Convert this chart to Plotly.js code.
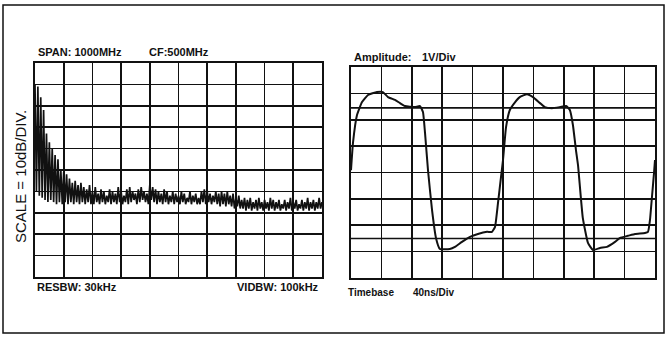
<!DOCTYPE html>
<html>
<head>
<meta charset="utf-8">
<script src="https://cdn.plot.ly/plotly-3.0.1.min.js"></script>
<style>html,body{margin:0;padding:0;background:#fff;}#chart{width:668px;height:341px;}</style>
</head>
<body>
<div id="chart"></div>
<script>
// Spectrum analyzer trace: level (dB) every 5 MHz from 0 to 1000 MHz
const spectrumStartMHz = 0;
const spectrumStepMHz = 5;
const spectrumLevelDb = [
  -10,-60,-11,-62,-16,-63,-22,-64,-33,-65,-37,-64,-40,-65,-43,-66,-45,-65,-50,-66,
  -51,-65,-52,-66,-54,-65,-56,-66,-55,-65,-57,-66,-56,-65,-58,-66,-59,-65,-57,-66,
  -60,-66,-58,-65,-61,-66,-59,-65,-60,-66,-62,-65,-59,-66,-60,-65,-61,-66,-58,-65,
  -60,-66,-62,-65,-59,-66,-58,-65,-60,-64,-61,-66,-59,-65,-58,-64,-60,-65,-61,-66,
  -57,-64,-58,-65,-59,-66,-60,-65,-61,-66,-59,-65,-60,-66,-62,-65,-60,-66,-61,-65,
  -62,-66,-60,-65,-61,-66,-63,-65,-60,-66,-62,-65,-61,-66,-63,-66,-60,-65,-59,-66,
  -60,-65,-61,-66,-62,-65,-60,-66,-61,-67,-60,-66,-61,-67,-60,-66,-62,-67,-61,-68,
  -63,-67,-62,-68,-64,-68,-63,-69,-64,-68,-63,-69,-65,-68,-64,-69,-63,-68,-65,-69,
  -64,-68,-65,-69,-63,-68,-64,-69,-65,-68,-64,-69,-66,-68,-64,-69,-65,-68,-63,-69,
  -65,-68,-64,-69,-66,-68,-64,-69,-65,-68,-63,-69,-65,-68,-64,-69,-65,-68,-63,-68,
  -65
];

// Oscilloscope trace: time (ns) and amplitude (V)
const scopeTimeNs = [
  0, 2.6, 7.9, 14.5, 22.4, 34.2, 42, 48.7, 57.9, 64.5, 71, 84, 90.8, 94.7, 97.4, 101.3,
  106.6, 111.8, 117, 130, 136.8, 146, 156.6, 167, 179, 185.5, 189.5, 193.4, 197.4, 200,
  204, 209, 216, 222, 231.6, 239.5, 248.7, 255, 264.5, 275, 283, 288, 292, 296, 298.7,
  305, 311.8, 318.4, 327.6, 336.8, 347.4, 354, 364.5, 373.7, 386.8, 390.8, 393.4, 396,
  398.7, 400
];
const scopeVolts = [
  0.09, 1.12, 2.18, 2.67, 2.94, 3.05, 3.05, 2.86, 2.75, 2.63, 2.52, 2.48, 2.52, 2.29, 1.5, 0.09,
  -1.42, -2.48, -2.9, -2.9, -2.82, -2.63, -2.44, -2.33, -2.25, -2.25, -2.06, -1.16, -0.17, 0.47,
  1.72, 2.37, 2.67, 2.86, 2.97, 2.86, 2.63, 2.48, 2.44, 2.48, 2.52, 2.37, 1.8, 0.85, 0.28,
  -1.72, -2.67, -2.94, -2.86, -2.82, -2.63, -2.48, -2.4, -2.33, -2.29, -2.25, -1.8, -0.93,
  -0.02, 0.47
];
const scopeRefLevels = [2.45, -2.5];

const labels = {
  span: 'SPAN: 1000MHz', cf: 'CF:500MHz', resbw: 'RESBW: 30kHz', vidbw: 'VIDBW: 100kHz',
  scale: 'SCALE = 10dB/DIV.', amp: 'Amplitude:', ampVal: '1V/Div', tb: 'Timebase', tbVal: '40ns/Div'
};

const W = 668, H = 341;
const px = v => v / W;
const py = v => 1 - v / H;
const ink = '#111111';
const ff = 'Liberation Sans, Arial, Helvetica, sans-serif';

const axBase = {
  showline: true, mirror: true, linewidth: 2, linecolor: ink,
  showgrid: true, gridcolor: ink, gridwidth: 1.6,
  zeroline: false, showticklabels: false, ticks: '', fixedrange: true
};

const traces = [
  {
    type: 'scatter', mode: 'lines', x0: spectrumStartMHz, dx: spectrumStepMHz, y: spectrumLevelDb,
    xaxis: 'x', yaxis: 'y', line: {color: ink, width: 1.7}, hoverinfo: 'skip'
  },
  {
    type: 'scatter', mode: 'lines', x: scopeTimeNs, y: scopeVolts,
    xaxis: 'x2', yaxis: 'y2', line: {color: ink, width: 2, shape: 'spline', smoothing: 0.4}, hoverinfo: 'skip'
  }
];

const shapes = scopeRefLevels.map(v => ({
  type: 'line', xref: 'x2 domain', yref: 'y2', x0: 0, x1: 1, y0: v, y1: v,
  line: {color: ink, width: 1.6}, layer: 'below'
}));
shapes.push({
  type: 'rect', xref: 'paper', yref: 'paper', x0: px(3), x1: px(664), y0: py(333), y1: py(5),
  line: {color: ink, width: 1.5}, layer: 'below'
});

function ann(text, x, y, opts) {
  return Object.assign({
    text: text, xref: 'paper', yref: 'paper', x: px(x), y: py(y),
    xanchor: 'left', yanchor: 'middle', showarrow: false,
    font: {family: ff, size: 11, color: ink, weight: 'bold'}
  }, opts || {});
}

const annotations = [
  ann(labels.span, 36, 52),
  ann(labels.cf, 147, 52),
  ann(labels.resbw, 35, 287),
  ann(labels.vidbw, 321, 287, {xanchor: 'right'}),
  ann(labels.amp, 352, 57),
  ann(labels.ampVal, 420, 57),
  ann(labels.tb, 346, 292, {font: {family: ff, size: 10, color: ink, weight: 'bold'}}),
  ann(labels.tbVal, 411, 292, {font: {family: ff, size: 10, color: ink, weight: 'bold'}}),
  ann(labels.scale, 20, 177, {xanchor: 'center', yanchor: 'middle', textangle: -90,
    font: {family: ff, size: 15, color: ink}})
];

const layout = {
  width: W, height: H,
  margin: {l: 0, r: 0, t: 0, b: 0},
  paper_bgcolor: '#ffffff', plot_bgcolor: '#ffffff',
  showlegend: false,
  xaxis: Object.assign({}, axBase, {domain: [px(35), px(322)], range: [0, 1000], dtick: 100, tick0: 0, anchor: 'y'}),
  yaxis: Object.assign({}, axBase, {domain: [py(277), py(63)], range: [-100, 0], dtick: 10, tick0: 0, anchor: 'x'}),
  xaxis2: Object.assign({}, axBase, {domain: [px(351), px(655)], range: [0, 400], dtick: 40, tick0: 0, anchor: 'y2'}),
  yaxis2: Object.assign({}, axBase, {domain: [py(278), py(67)], range: [-4, 4], dtick: 1, tick0: 0, anchor: 'x2'}),
  shapes: shapes,
  annotations: annotations
};

Plotly.newPlot('chart', traces, layout, {displayModeBar: false, staticPlot: true});
</script>
</body>
</html>
